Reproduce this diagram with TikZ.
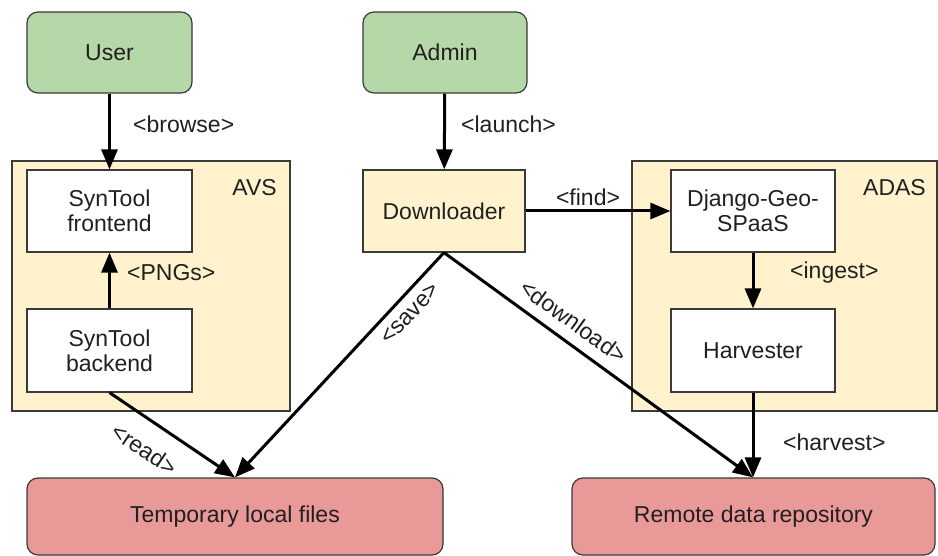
\documentclass[tikz,border=0pt]{standalone}
\usepackage{fontspec}
\setmainfont{Liberation Sans}
\usetikzlibrary{arrows.meta}
\definecolor{grn}{HTML}{B6D7A8}
\definecolor{rd}{HTML}{EA9999}
\definecolor{ylw}{HTML}{FFF2CC}
\definecolor{edge}{HTML}{3A3A3A}
\definecolor{txt}{HTML}{202020}
\begin{document}
\begin{tikzpicture}[x=1pt,y=-1pt,
  font=\fontsize{23}{25}\selectfont,
  box/.style={draw=edge, line width=1.2pt, inner sep=0pt, align=center, text=txt},
  actor/.style={box, fill=grn, rounded corners=11pt},
  store/.style={box, fill=rd, rounded corners=11pt},
  comp/.style={box, fill=white},
  ycomp/.style={box, fill=ylw},
  group/.style={draw=edge, line width=1.2pt, fill=ylw},
  conn/.style={line width=3pt, -{Triangle[length=20pt,width=16pt]}},
  lbl/.style={inner sep=0pt, text=txt}]
\useasboundingbox (0,0) rectangle (938,556);

% containers
\draw[group] (12,161) rectangle (290,411);
\draw[group] (632,161) rectangle (937,411);
\node[lbl, anchor=east] (avs) at (277,188) {AVS};
\node[lbl, anchor=east] (adas) at (926,188) {ADAS};

% nodes
\node[actor, minimum width=165pt, minimum height=81pt] (user) at (109.5,52.5) {User};
\node[actor, minimum width=164pt, minimum height=81pt] (admin) at (445,52.5) {Admin};
\node[comp, minimum width=165pt, minimum height=82pt] (front) at (109.5,211) {SynTool\\frontend};
\node[comp, minimum width=165pt, minimum height=83pt] (back) at (109.5,350.5) {SynTool\\backend};
\node[ycomp, minimum width=162pt, minimum height=82pt] (down) at (444,211) {Downloader};
\node[comp, minimum width=164pt, minimum height=82pt] (django) at (753,211) {Django-Geo-\\SPaaS};
\node[comp, minimum width=164pt, minimum height=83pt] (harv) at (753,350.5) {Harvester};
\node[store, minimum width=416pt, minimum height=77pt] (temp) at (235,516.5) {Temporary local files};
\node[store, minimum width=363pt, minimum height=77pt] (remote) at (753.5,516.5) {Remote data repository};
\coordinate (rin) at (harv.south |- remote.north);

% connectors
\draw[conn] (user) -- (front);
\draw[conn] (admin) -- (down);
\draw[conn] (back) -- (front);
\draw[conn] (down) -- (django);
\draw[conn] (django) -- (harv);
\draw[conn] (harv.south) -- (rin);
\draw[conn] (back.south) -- (temp.north);
\draw[conn] (down.south) -- (temp.north);
\draw[conn] (down.south) -- (rin);

% labels
\node[lbl, anchor=west] (lbrowse) at (133,124) {<browse>};
\node[lbl, anchor=west] (llaunch) at (461,124) {<launch>};
\node[lbl] (lfind) at (588,197) {<find>};
\node[lbl, anchor=west] (lpng) at (127,273) {<PNGs>};
\node[lbl, anchor=west] (lingest) at (790,273) {<ingest>};
\node[lbl, anchor=west] (lharv) at (783,442) {<harvest>};
\path (down.south) -- (temp.north) node[lbl, pos=0.22, sloped, below=10pt] (lsave) {<save>};
\path (down.south) -- (rin) node[lbl, pos=0.38, sloped, above=12pt] (ldown) {<download>};
\path (back.south) -- (temp.north) node[lbl, pos=0.4, sloped, below=19pt] (lread) {<read>};
\end{tikzpicture}
\end{document}
